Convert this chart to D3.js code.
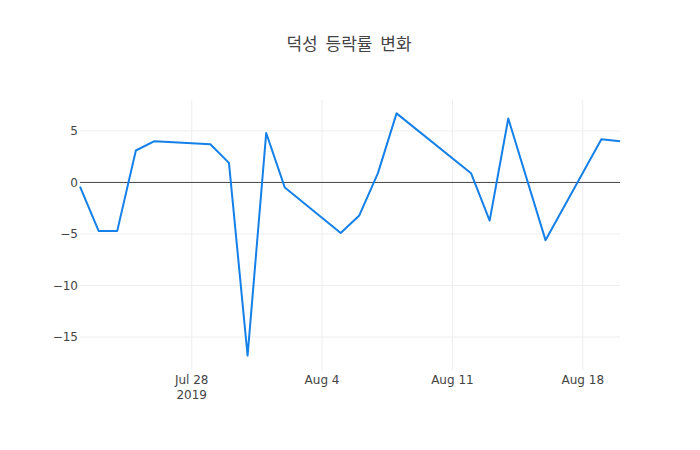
<!DOCTYPE html>
<html>
<head>
<meta charset="utf-8">
<script src="https://cdn.jsdelivr.net/npm/d3@7"></script>
<style>
  body { margin: 0; background: #fff; }
  text { font-family: "DejaVu Sans", "Noto Sans CJK KR", sans-serif; fill: #444; }
  .title { font-family: "Noto Sans CJK KR", sans-serif; }
</style>
</head>
<body>
<div id="chart"></div>
<script>
// trading days and daily change (%)
var dates = ['2019-07-22','2019-07-23','2019-07-24','2019-07-25','2019-07-26',
             '2019-07-29','2019-07-30','2019-07-31','2019-08-01','2019-08-02',
             '2019-08-05','2019-08-06','2019-08-07','2019-08-08','2019-08-12',
             '2019-08-13','2019-08-14','2019-08-16','2019-08-19','2019-08-20'];
var changes = [-0.4, -4.7, -4.7, 3.1, 4.0,
               3.7, 1.9, -16.8, 4.8, -0.5,
               -4.9, -3.2, 0.9, 6.7, 0.9,
               -3.7, 6.2, -5.6, 4.2, 4.0];
var yTicks = [-15, -10, -5, 0, 5];
var title = '덕성 등락률 변화';

var width = 700, height = 450,
    margin = {top: 100, right: 80, bottom: 80, left: 80};

var parse = d3.timeParse('%Y-%m-%d');
var data = dates.map(function(d, i) { return {date: parse(d), value: changes[i]}; });

var svg = d3.select('#chart').append('svg')
    .attr('width', width)
    .attr('height', height);

var x = d3.scaleTime()
    .domain(d3.extent(data, function(d) { return d.date; }))
    .range([margin.left, width - margin.right]);

var y = d3.scaleLinear()
    .domain([-18.2, 8.0])
    .range([height - margin.bottom, margin.top]);

var xTicks = [parse('2019-07-28'), parse('2019-08-04'), parse('2019-08-11'), parse('2019-08-18')];
var fmt = d3.timeFormat('%b %-d');

// grid
svg.append('g')
  .selectAll('line')
  .data(xTicks)
  .enter().append('line')
    .attr('x1', function(d) { return x(d); })
    .attr('x2', function(d) { return x(d); })
    .attr('y1', margin.top)
    .attr('y2', height - margin.bottom)
    .attr('stroke', '#eee');

svg.append('g')
  .selectAll('line')
  .data(yTicks.filter(function(t) { return t !== 0; }))
  .enter().append('line')
    .attr('x1', margin.left)
    .attr('x2', width - margin.right)
    .attr('y1', function(d) { return y(d); })
    .attr('y2', function(d) { return y(d); })
    .attr('stroke', '#eee');

// zero line
svg.append('line')
    .attr('x1', margin.left)
    .attr('x2', width - margin.right)
    .attr('y1', y(0))
    .attr('y2', y(0))
    .attr('stroke', '#444')
    .attr('stroke-width', 1);

// y labels
svg.append('g')
  .selectAll('text')
  .data(yTicks)
  .enter().append('text')
    .attr('x', margin.left - 2)
    .attr('y', function(d) { return y(d); })
    .attr('dy', '0.36em')
    .attr('text-anchor', 'end')
    .style('font-size', '12px')
    .text(function(d) { return d < 0 ? '\u2212' + Math.abs(d) : d; });

// x labels
svg.append('g')
  .selectAll('text')
  .data(xTicks)
  .enter().append('text')
    .attr('x', function(d) { return x(d); })
    .attr('y', height - margin.bottom + 13.5)
    .attr('text-anchor', 'middle')
    .style('font-size', '12px')
    .text(function(d) { return fmt(d); });

svg.append('text')
    .attr('x', x(xTicks[0]))
    .attr('y', height - margin.bottom + 29)
    .attr('text-anchor', 'middle')
    .style('font-size', '12px')
    .text('2019');

// line
var line = d3.line()
    .x(function(d) { return x(d.date); })
    .y(function(d) { return y(d.value); });

svg.append('path')
    .datum(data)
    .attr('d', line)
    .attr('fill', 'none')
    .attr('stroke', '#1480e8')
    .attr('stroke-width', 2)
    .attr('stroke-linejoin', 'round');

// title
svg.append('text')
    .attr('class', 'title')
    .attr('x', width / 2 - 1)
    .attr('y', 50)
    .attr('text-anchor', 'middle')
    .style('font-size', '17px')
    .style('word-spacing', '4px')
    .text(title);
</script>
</body>
</html>
